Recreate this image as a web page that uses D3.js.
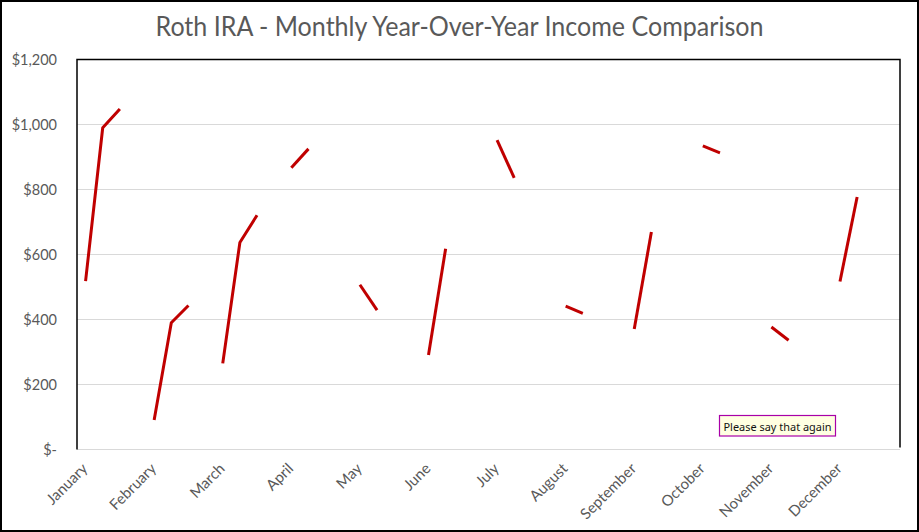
<html>
<head>
  <style>
    body {
      margin: 0;
      background: white;
      font-family: Lato, "Open Sans", sans-serif;
    }
    svg { display: block; }
  </style>
  <script src="https://cdn.jsdelivr.net/npm/d3@7"></script>
</head>
<body>
  <svg id="chart"></svg>
<script>

  // months on the x axis, three years of income per month
  let months = ["January", "February", "March", "April", "May", "June",
    "July", "August", "September", "October", "November", "December"]
  let years = ["Year 1", "Year 2", "Year 3"]
  let year1Income = [518, 91, 265, 867, 507, 291, 952, 441, 371, 934, 377, 517]
  let year2Income = [990, 390, 637, 925, 429, 618, 836, 419, 669, 913, 336, 777]
  let year3Income = [1048, 443, 721, null, null, null, null, null, null, null, null, null]
  let yTicks = [0, 200, 400, 600, 800, 1000, 1200]
  let title = "Roth IRA - Monthly Year-Over-Year Income Comparison"
  let tooltipText = "Please say that again"

  let width = 919
  let height = 532
  let margin = { top: 59.5, bottom: 82.5, left: 77, right: 19 }
  let grey = "#595959"

  let svg = d3.select("#chart")
    .attr("width", width)
    .attr("height", height)

  // chart border
  svg.append("rect")
    .attr("x", 1).attr("y", 1)
    .attr("width", width - 2).attr("height", height - 2)
    .attr("fill", "white")
    .attr("stroke", "black")
    .attr("stroke-width", 2)

  svg.append("text")
    .attr("x", width / 2)
    .attr("y", 36)
    .attr("text-anchor", "middle")
    .attr("fill", grey)
    .style("font-size", "27px")
    .attr("textLength", 608)
    .attr("lengthAdjust", "spacingAndGlyphs")
    .text(title)

  let xMonth = d3.scaleBand()
    .domain(months)
    .range([margin.left, width - margin.right])

  // 4 slots per month: 3 years + an empty gap
  let xSlot = d3.scaleBand()
    .domain([0, 1, 2, 3])
    .range([0, xMonth.bandwidth()])

  let yScale = d3.scaleLinear()
    .domain([0, 1200])
    .range([height - margin.bottom, margin.top])

  // gridlines
  svg.append("g")
    .selectAll("line")
    .data(yTicks.slice(0, -1))
    .enter().append("line")
    .attr("x1", margin.left)
    .attr("x2", width - margin.right)
    .attr("y1", d => yScale(d))
    .attr("y2", d => yScale(d))
    .attr("stroke", "#d9d9d9")
    .attr("stroke-width", 1)

  // plot area border (left, top, right)
  let x0 = margin.left, x1 = width - margin.right
  let yTop = yScale(1200), yBot = yScale(0)
  svg.append("path")
    .attr("d", `M${x0},${yBot}V${yTop}H${x1}V${yBot - 2}`)
    .attr("fill", "none")
    .attr("stroke", "black")
    .attr("stroke-width", 1.5)

  let axisY = d3.axisLeft(yScale)
    .tickValues(yTicks)
    .tickSize(0)
    .tickPadding(20)
    .tickFormat(d => d === 0 ? "$-" : d3.format("$,")(d))

  let gy = svg.append("g")
    .attr("transform", `translate(${margin.left},0)`)
    .call(axisY)
  gy.select(".domain").remove()
  gy.selectAll("text")
    .attr("fill", grey)
    .style("font-family", "Lato, sans-serif")
    .style("font-size", "14.5px")

  // month labels sit on the first slot of each month
  let labelShift = xSlot(0) + xSlot.bandwidth() / 2 - xMonth.bandwidth() / 2
  let axisX = d3.axisBottom(xMonth).tickSize(0)
  let gx = svg.append("g")
    .attr("transform", `translate(0,${yBot})`)
    .call(axisX)
  gx.select(".domain").remove()
  gx.selectAll("text")
    .attr("x", 0).attr("y", 0).attr("dy", 0)
    .attr("text-anchor", "end")
    .attr("transform", `translate(${labelShift + 3},${20}) rotate(-45)`)
    .attr("fill", grey)
    .style("font-family", "Lato, sans-serif")
    .style("font-size", "15px")

  // one line per month across the years
  let series = [year1Income, year2Income, year3Income]
  let monthData = months.map((m, i) => ({
    month: m,
    points: years.map((y, k) => ({ slot: k, value: series[k][i] }))
      .filter(p => p.value != null)
  }))

  svg.append("g")
    .selectAll("path")
    .data(monthData)
    .enter().append("path")
    .attr("d", d => d3.line()
      .x(p => xMonth(d.month) + xSlot(p.slot) + xSlot.bandwidth() / 2)
      .y(p => yScale(p.value))(d.points))
    .attr("fill", "none")
    .attr("stroke", "#c00000")
    .attr("stroke-width", 3)
    .attr("stroke-linejoin", "round")

  // hover tooltip left in the screenshot
  let tip = svg.append("g").attr("transform", "translate(719.5,415.5)")
  tip.append("rect")
    .attr("width", 116).attr("height", 20.5)
    .attr("fill", "#ffffe1")
    .attr("stroke", "#a800a8")
    .attr("stroke-width", 1.2)
  tip.append("text")
    .attr("x", 4).attr("y", 15)
    .attr("fill", "#111")
    .style("font-family", "'Noto Sans', sans-serif")
    .style("font-size", "11.5px")
    .attr("textLength", 108)
    .attr("lengthAdjust", "spacingAndGlyphs")
    .text(tooltipText)

</script>
</body>
</html>
